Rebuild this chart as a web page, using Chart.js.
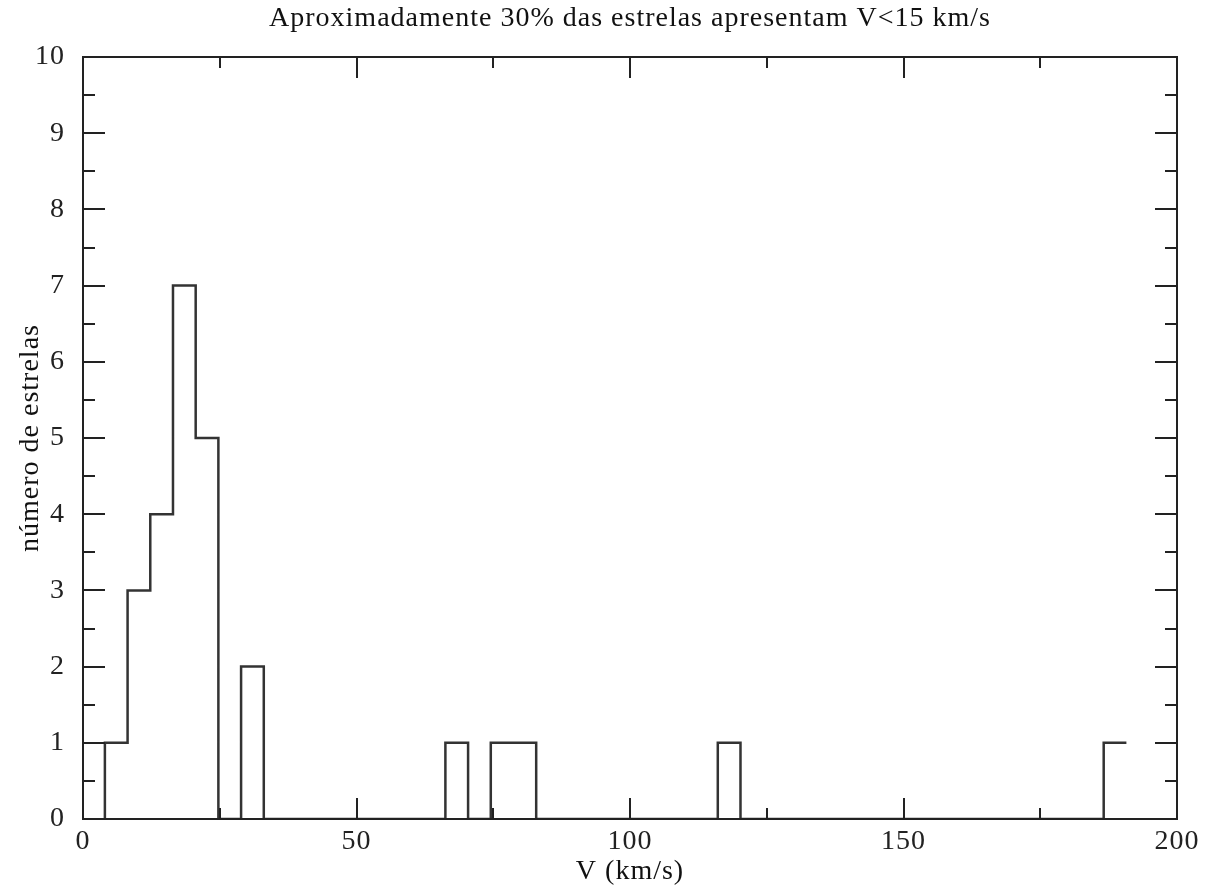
<!DOCTYPE html>
<html>
<head>
<meta charset="utf-8">
<script src="https://cdn.jsdelivr.net/npm/chart.js@4/dist/chart.umd.min.js"></script>
<style>
  html, body { margin: 0; padding: 0; background: #fff; }
  #wrap { width: 1213px; height: 893px; }
</style>
</head>
<body>
<div id="wrap"><canvas id="myChart" width="1213" height="893"></canvas></div>
<script>
// histogram outline: left edge of each step and the count that follows it
const binEdges = [4.0, 8.15, 12.3, 16.45, 20.6, 24.75, 28.9, 33.05, 66.25, 70.4, 74.55, 82.85, 116.05, 120.2, 186.6, 190.75];
const counts   = [1,   3,    4,    7,     5,    0,     2,    0,     1,     0,    1,     0,     1,      0,     1,     1];

const xMajor = [0, 50, 100, 150, 200];
const xMinor = [25, 75, 125, 175];
const yMajor = [0, 1, 2, 3, 4, 5, 6, 7, 8, 9, 10];
const yMinor = [0.5, 1.5, 2.5, 3.5, 4.5, 5.5, 6.5, 7.5, 8.5, 9.5];

const titleText = 'Aproximadamente 30% das estrelas apresentam V<15 km/s';
const xTitle = 'V (km/s)';
const yTitle = 'número de estrelas';

const serif = '"Liberation Serif", "DejaVu Serif", serif';

// stepped 'before' in chart.js = horizontal at previous value, then vertical
const points = [{ x: binEdges[0], y: 0 }];
binEdges.forEach((e, i) => points.push({ x: e, y: counts[i] }));

// the original lettering is set a bit wider than Liberation Serif
// (canvas resize resets ctx state, so set it right before drawing)
const spacingPlugin = {
    id: 'spacing',
    beforeUpdate(chart) {
        if ('letterSpacing' in chart.ctx) chart.ctx.letterSpacing = '1px';
    },
    beforeDraw(chart) {
        if ('letterSpacing' in chart.ctx) chart.ctx.letterSpacing = '1px';
    }
};

// frame with inward ticks on all four sides
const framePlugin = {
    id: 'frame',
    afterDatasetsDraw(chart) {
        const ctx = chart.ctx;
        const a = chart.chartArea;
        const xs = chart.scales.x, ys = chart.scales.y;
        ctx.save();
        ctx.strokeStyle = '#222';
        ctx.lineWidth = 2;
        ctx.strokeRect(a.left, a.top, a.right - a.left, a.bottom - a.top);
        ctx.beginPath();
        const vtick = (v, len) => {
            const px = Math.round(xs.getPixelForValue(v));
            ctx.moveTo(px, a.bottom); ctx.lineTo(px, a.bottom - len);
            ctx.moveTo(px, a.top); ctx.lineTo(px, a.top + len);
        };
        const htick = (v, len) => {
            const py = Math.round(ys.getPixelForValue(v));
            ctx.moveTo(a.left, py); ctx.lineTo(a.left + len, py);
            ctx.moveTo(a.right, py); ctx.lineTo(a.right - len, py);
        };
        xMajor.forEach(v => vtick(v, 21));
        xMinor.forEach(v => vtick(v, 11));
        yMajor.forEach(v => htick(v, 22));
        yMinor.forEach(v => htick(v, 12));
        ctx.stroke();
        ctx.restore();
    }
};

new Chart(document.getElementById('myChart').getContext('2d'), {
    type: 'line',
    data: {
        datasets: [{
            data: points,
            stepped: 'before',
            borderColor: '#333',
            borderWidth: 2.5,
            pointRadius: 0,
            fill: false
        }]
    },
    options: {
        responsive: false,
        animation: false,
        layout: { padding: { left: 0, right: 36, top: 0, bottom: 0 } },
        plugins: {
            legend: { display: false },
            tooltip: { enabled: false },
            title: {
                display: true,
                fullSize: false,
                text: titleText,
                color: '#111',
                font: { family: serif, size: 28, weight: 'normal' },
                padding: { top: 2, bottom: 21.4 }
            }
        },
        scales: {
            x: {
                type: 'linear',
                min: 0,
                max: 200,
                afterBuildTicks: s => { s.ticks = xMajor.map(v => ({ value: v })); },
                afterFit: s => { s.height = 74; },
                grid: { display: false },
                border: { display: false },
                ticks: { color: '#222', padding: 1, font: { family: serif, size: 28, lineHeight: 1 } },
                title: {
                    display: true,
                    text: xTitle,
                    color: '#111',
                    font: { family: serif, size: 28 },
                    padding: { top: 0, bottom: 5 }
                }
            },
            y: {
                min: 0,
                max: 10,
                afterBuildTicks: s => { s.ticks = yMajor.map(v => ({ value: v })); },
                afterFit: s => { s.width = 83; },
                grid: { display: false },
                border: { display: false },
                ticks: { color: '#222', padding: 10, font: { family: serif, size: 28, lineHeight: 1 } },
                title: {
                    display: true,
                    text: yTitle,
                    color: '#111',
                    font: { family: serif, size: 28 },
                    padding: { top: 14, bottom: 0 }
                }
            }
        }
    },
    plugins: [spacingPlugin, framePlugin]
});
</script>
</body>
</html>
